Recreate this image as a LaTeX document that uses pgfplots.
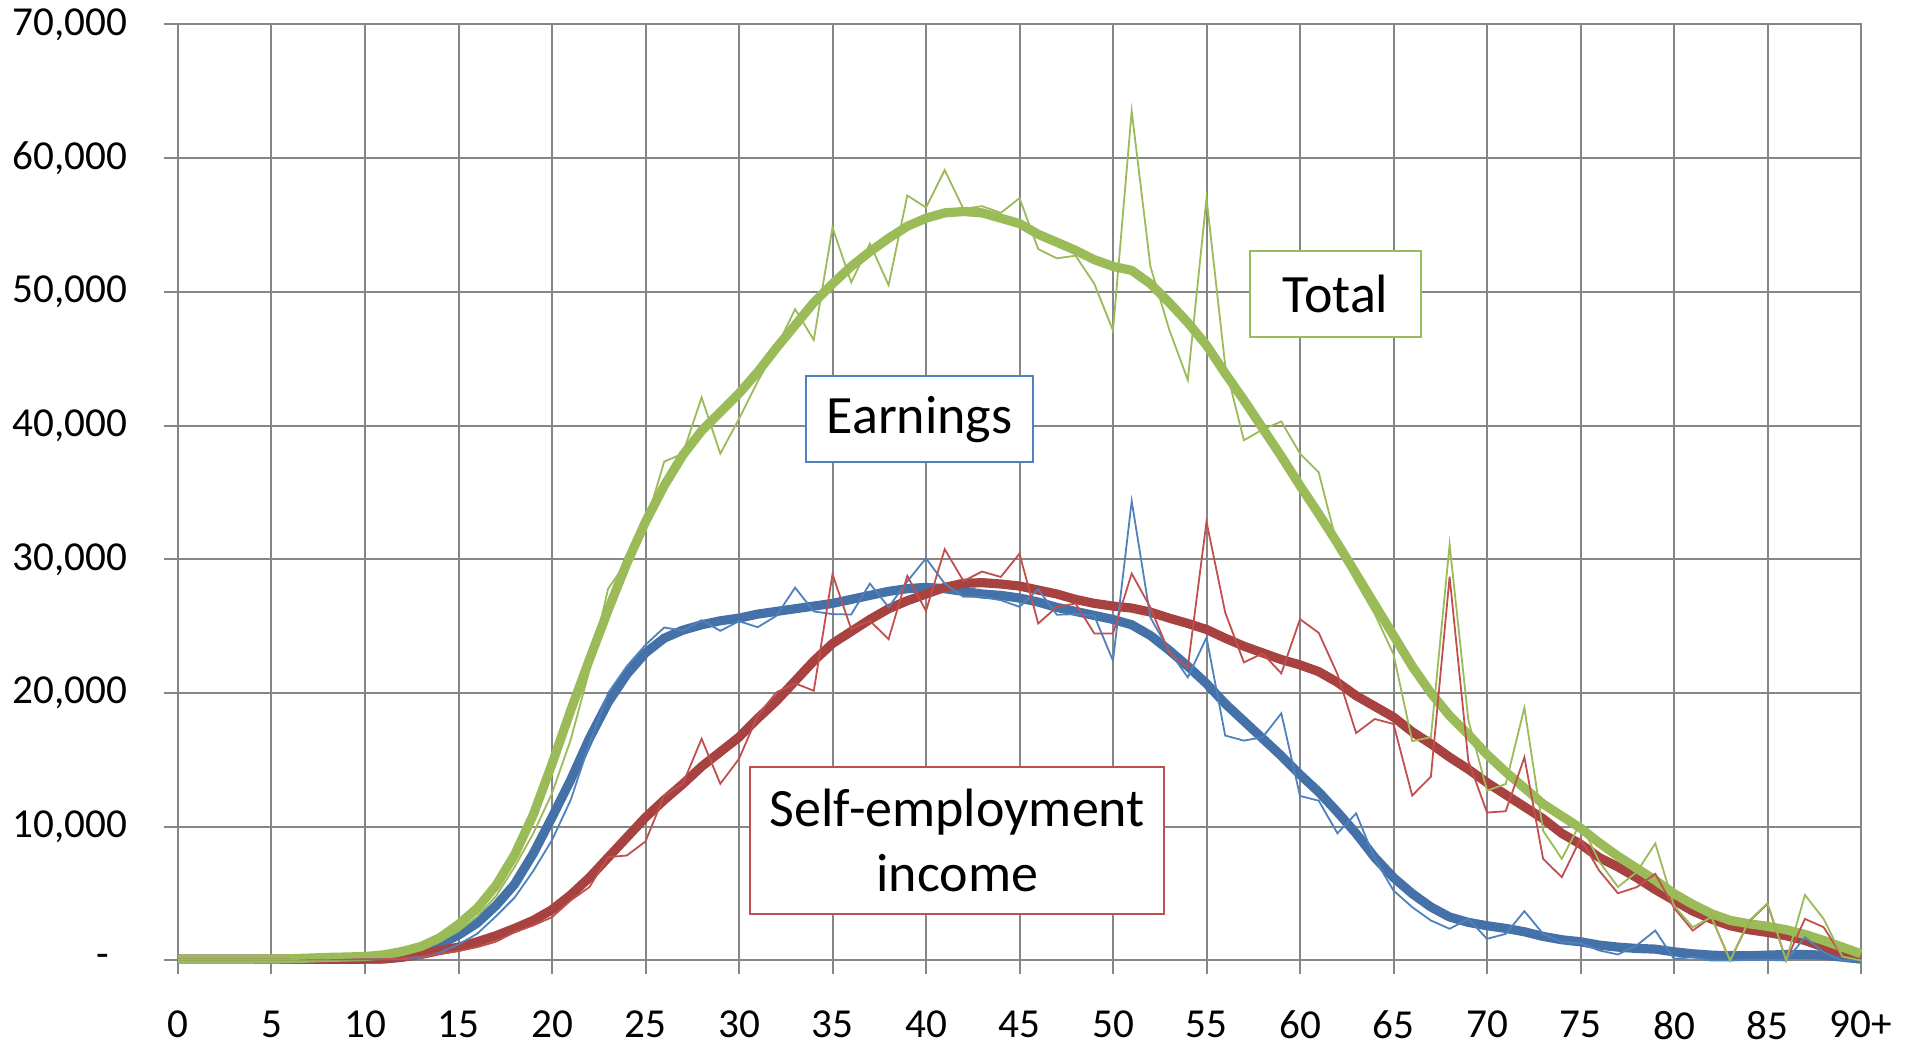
\documentclass[border=0pt]{standalone}
\usepackage{fontspec}
\setmainfont{Carlito}
\usepackage{pgfplots}
\usepackage{pgfplotstable}
\pgfplotsset{compat=1.18}
\definecolor{gridgray}{RGB}{134,134,134}
\definecolor{bthin}{RGB}{79,129,189}
\definecolor{bthick}{RGB}{68,114,168}
\definecolor{rthin}{RGB}{192,80,77}
\definecolor{rthick}{RGB}{167,66,64}
\definecolor{gthin}{RGB}{155,187,89}
\definecolor{gthick}{RGB}{155,187,89}
\pgfplotstableread{
age GT BT RT Gt Bt Rt
0 100 100 100 100 100 100
1 100 100 100 100 100 100
2 100 100 100 100 100 100
3 100 100 100 100 100 100
4 100 100 100 100 100 100
5 110 100 100 100 100 100
6 130 100 100 100 100 100
7 180 100 100 150 100 100
8 230 100 100 150 100 100
9 260 100 100 200 100 100
10 300 100 100 250 100 100
11 420 120 120 350 100 100
12 680 250 250 650 100 150
13 1050 600 450 800 200 300
14 1700 1200 750 1400 600 500
15 2700 1900 1000 2200 1200 700
16 3900 2800 1400 3300 2000 1000
17 5600 4100 1850 4800 3300 1400
18 7900 5700 2400 7000 4700 2120
19 10900 8000 3000 9500 6700 2620
20 14700 10700 3800 12500 9000 3240
21 18700 13500 4900 16500 12000 4490
22 22500 16600 6200 21700 16200 5490
23 26200 19300 7700 27800 20000 7730
24 29700 21400 9200 29800 22000 7850
25 32800 23000 10700 32600 23600 8900
26 35500 24100 12000 37300 24900 12340
27 37800 24700 13200 37900 24650 13220
28 39600 25100 14500 42100 25450 16580
29 41000 25400 15600 37900 24650 13210
30 42400 25600 16700 40500 25370 15080
31 44000 25900 18100 43300 24920 18310
32 45800 26100 19400 45800 25770 20050
33 47500 26300 20900 48700 27880 20720
34 49200 26500 22400 46400 26100 20170
35 50600 26700 23700 54800 25900 28880
36 51900 27000 24600 50700 25870 24780
37 53000 27300 25500 53600 28180 25400
38 54000 27600 26300 50500 26420 24030
39 54900 27800 26900 57200 28350 28760
40 55500 27900 27400 56300 30070 26140
41 55900 27800 27900 59100 28180 30750
42 56000 27600 28200 56200 27190 28380
43 55900 27400 28250 56400 27190 29080
44 55500 27300 28150 55900 26940 28680
45 55100 27100 28000 57000 26440 30420
46 54300 26800 27700 53200 27760 25200
47 53700 26400 27400 52500 25850 26440
48 53100 26100 27000 52700 25900 26690
49 52400 25800 26700 50600 25770 24450
50 51900 25500 26500 47100 22410 24450
51 51600 25100 26350 63500 34350 28930
52 50600 24300 26050 51900 25650 26390
53 49200 23200 25600 47200 23160 23030
54 47700 22000 25200 43400 21170 21920
55 46000 20700 24750 57000 24150 32810
56 43900 19200 24100 44500 16820 26020
57 41900 17900 23500 38900 16440 22290
58 39800 16600 23000 39700 16690 22960
59 37700 15300 22500 40300 18480 21470
60 35500 13900 22100 37900 12300 25520
61 33400 12600 21600 36500 11950 24500
62 31200 11100 20800 31000 9510 21420
63 28900 9500 19800 28300 11000 17010
64 26600 7700 19000 25900 7600 18060
65 24300 6200 18200 22900 5230 17680
66 22000 5000 17100 16400 3990 12330
67 20000 4000 16200 16700 2990 13750
68 18300 3250 15200 31100 2370 28690
69 16900 2850 14300 18000 3110 14940
70 15400 2600 13300 12700 1620 11060
71 14100 2400 12400 13200 1990 11160
72 12900 2150 11500 18900 3690 15190
73 11700 1800 10600 9700 1990 7600
74 10800 1550 9500 7600 1370 6230
75 9900 1400 8700 10300 1300 9090
76 8800 1150 7700 7400 750 6720
77 7800 1000 7000 5500 450 5030
78 6900 900 6200 6600 1120 5480
79 6000 850 5300 8750 2240 6480
80 5000 650 4500 4100 120 3940
81 4200 500 3700 2490 250 2240
82 3500 400 3100 3240 0 3240
83 3000 350 2600 0 0 0
84 2750 350 2300 2950 50 2900
85 2550 400 2100 4280 50 4230
86 2300 450 1850 0 0 0
87 1950 450 1500 4900 1740 3110
88 1500 400 1000 3110 620 2490
89 1000 250 600 300 0 300
90 500 100 250 0 0 0
}\data
\begin{document}
\begin{tikzpicture}
\useasboundingbox (-89pt,-43.25pt) rectangle (869pt,480.25pt);
\begin{axis}[
  scale only axis,
  width=841.5pt, height=468.1pt,
  xmin=0, xmax=90, ymin=0, ymax=70000,
  clip=false,
  xtick={0,5,...,90},
  xticklabels={0,5,10,15,20,25,30,35,40,45,50,55,60,65,70,75,80,85,90+},
  ytick={0,10000,...,70000},
  yticklabels={\makebox[15.3pt][l]{-},{10,000},{20,000},{30,000},{40,000},{50,000},{60,000},{70,000}},
  grid=major,
  major grid style={line width=1pt, color=gridgray},
  axis line style={line width=1pt, color=gridgray},
  tick align=outside,
  tick pos=left,
  major tick length=7pt,
  tick style={line width=1pt, color=gridgray},
  ticklabel style={font=\fontsize{20.6}{24}\selectfont, text=black, inner sep=0pt},
  xticklabel style={anchor=north, yshift=-18pt},
  yticklabel style={anchor=east, xshift=-18pt},
  scaled y ticks=false,
]
\addplot[bthick, line width=4.6pt, line join=round] table[x=age,y=BT]{\data};
\addplot[rthick, line width=4.6pt, line join=round] table[x=age,y=RT]{\data};
\addplot[gthick, line width=4.6pt, line join=round] table[x=age,y=GT]{\data};
\addplot[bthin, line width=0.9pt] table[x=age,y=Bt]{\data};
\addplot[rthin, line width=0.9pt] table[x=age,y=Rt]{\data};
\addplot[gthin, line width=0.9pt] table[x=age,y=Gt]{\data};
\node[draw=gthin, line width=1pt, fill=white, inner sep=0pt, minimum width=85.3pt, minimum height=43pt, font=\fontsize{27}{33}\selectfont] at (axis cs:61.9,49870) {Total};
\node[draw=bthin, line width=1pt, fill=white, inner sep=0pt, minimum width=113.5pt, minimum height=43.3pt, font=\fontsize{27}{33}\selectfont] at (axis cs:39.66,40480) {Earnings};
\node[draw=rthin, line width=1pt, fill=white, inner sep=0pt, minimum width=207pt, minimum height=73.3pt, align=center, font=\fontsize{27}{32.4}\selectfont] at (axis cs:41.68,8960) {Self-employment\\income};
\end{axis}
\end{tikzpicture}
\end{document}
